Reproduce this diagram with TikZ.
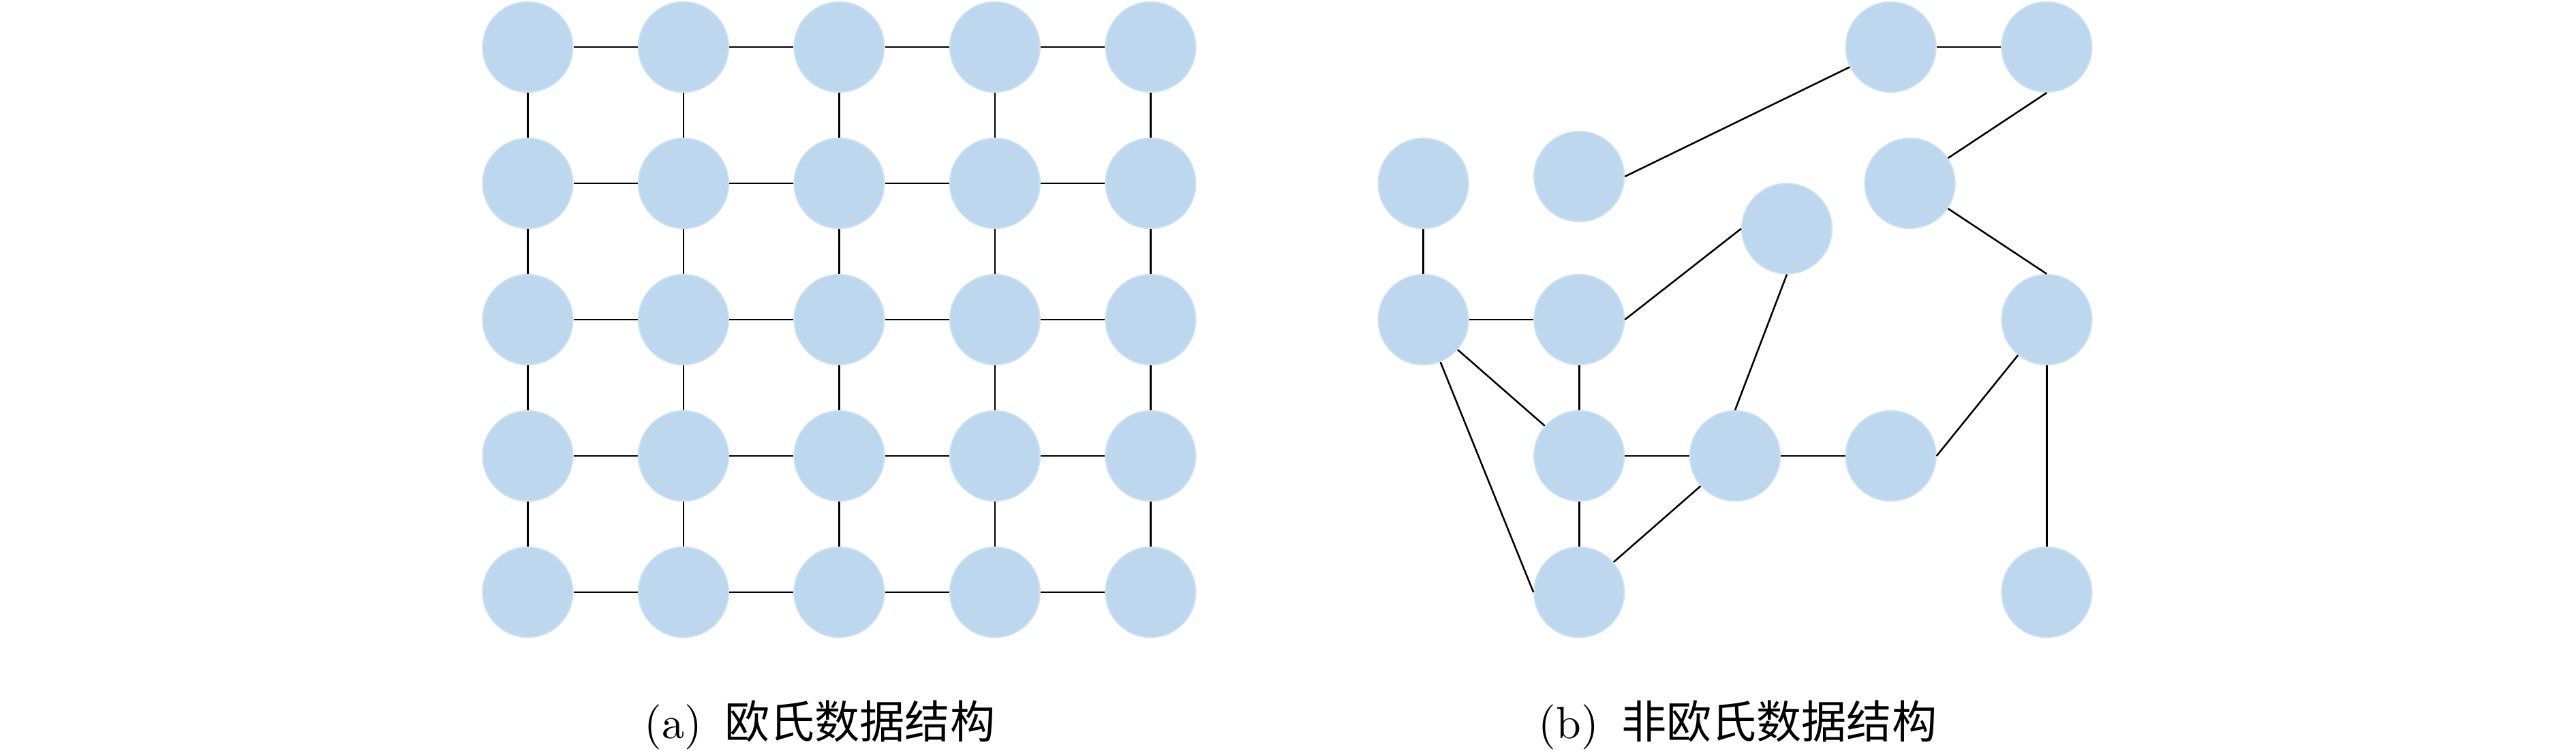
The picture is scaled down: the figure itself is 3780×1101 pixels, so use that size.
\documentclass[tikz,border=0pt]{standalone}
\usepackage{fontspec}
\newfontfamily\cjkfont{Noto Sans CJK SC}
\definecolor{nodeblue}{RGB}{189,215,238}
\definecolor{nodeedge}{RGB}{205,225,242}
\begin{document}
\begin{tikzpicture}[x=0.15873pt,y=-0.15873pt,
  vtx/.style={circle, fill=nodeblue, draw=nodeedge, line width=0.3pt, minimum size=21pt, inner sep=0pt},
  link/.style={line width=0.4pt, black},
  captext/.style={anchor=base, font=\fontsize{10.5}{12}\selectfont, inner sep=0pt}]
\useasboundingbox (0,0) rectangle (3780,1101);
% (a) Euclidean grid
\foreach \i/\x in {1/774.4,2/1002.9,3/1231.4,4/1459.9,5/1688.4}
  \foreach \j/\y in {1/69,2/269,3/469,4/669,5/869}
    \node[vtx] (L\i\j) at (\x,\y) {};
\foreach \i [evaluate=\i as \ni using int(\i+1)] in {1,...,4}
  \foreach \j in {1,...,5} {
    \draw[link] (L\i\j) -- (L\ni\j);
    \draw[link] (L\j\i) -- (L\j\ni);
  }
% (b) non-Euclidean graph
\node[vtx] (rA) at (2088.5,269) {};
\node[vtx] (rB) at (2317.2,259) {};
\node[vtx] (rC) at (2774.6,69) {};
\node[vtx] (rD) at (3003.3,69) {};
\node[vtx] (rE) at (2802.5,269) {};
\node[vtx] (rF) at (2622,335.5) {};
\node[vtx] (rG) at (2088.5,469) {};
\node[vtx] (rH) at (2317.2,469) {};
\node[vtx] (rI) at (3003.3,469) {};
\node[vtx] (rJ) at (2317.2,669) {};
\node[vtx] (rK) at (2545.9,669) {};
\node[vtx] (rL) at (2774.6,669) {};
\node[vtx] (rM) at (2317.2,869) {};
\node[vtx] (rN) at (3003.3,869) {};
\draw[link] (rC) -- (rD);
\draw[link] (rB.east) -- (rC);
\draw[link] (rD.south) -- (rE);
\draw[link] (rE) -- (rI.north);
\draw[link] (rA) -- (rG);
\draw[link] (rG) -- (rH);
\draw[link] (rH.east) -- (rF.west);
\draw[link] (rF.south) -- (rK.north);
\draw[link] (rG) -- (rJ);
\draw[link] (rG) -- (rM.west);
\draw[link] (rH) -- (rJ);
\draw[link] (rJ) -- (rK);
\draw[link] (rK) -- (rL);
\draw[link] (rL.east) -- (rI);
\draw[link] (rJ) -- (rM);
\draw[link] (rK) -- (rM);
\draw[link] (rI) -- (rN);
% captions
\node[captext] (capa) at (1203,1083) {(a)\hspace{0.5em}{\cjkfont 欧氏数据结构}};
\node[captext] (capb) at (2550,1083) {(b)\hspace{0.5em}{\cjkfont 非欧氏数据结构}};
\end{tikzpicture}
\end{document}
